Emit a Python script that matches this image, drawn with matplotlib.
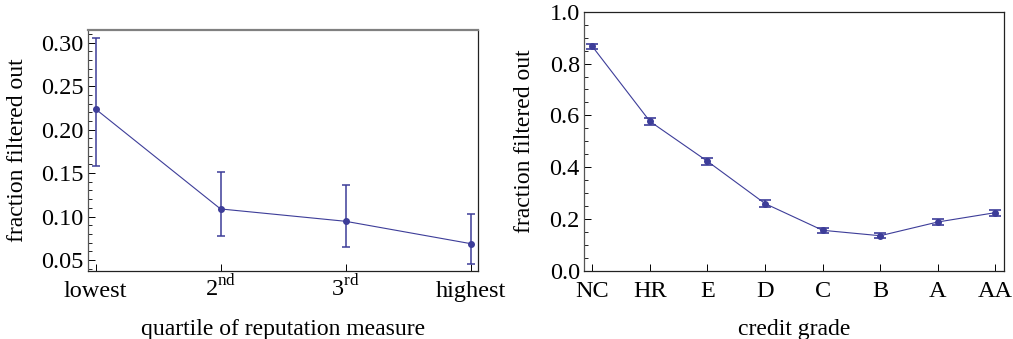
import matplotlib
matplotlib.use("Agg")
import matplotlib.pyplot as plt
import numpy as np
from matplotlib.ticker import MultipleLocator

plt.rcParams['font.family'] = ['Liberation Serif', 'DejaVu Serif']
plt.rcParams['mathtext.fontset'] = 'custom'
plt.rcParams['mathtext.rm'] = 'Liberation Serif'
plt.rcParams['font.size'] = 17.5
plt.rcParams['axes.labelsize'] = 17

# left panel: reputation quartiles
quartiles = ['lowest', '2$^{\\mathrm{nd}}$', '3$^{\\mathrm{rd}}$', 'highest']
rep_frac = [0.2237, 0.1087, 0.0945, 0.0688]
rep_hi = [0.3058, 0.1508, 0.1359, 0.1033]
rep_lo = [0.1585, 0.0772, 0.0650, 0.0454]

# right panel: credit grades
grades = ['NC', 'HR', 'E', 'D', 'C', 'B', 'A', 'AA']
grade_frac = [0.866, 0.577, 0.423, 0.260, 0.157, 0.136, 0.189, 0.225]
grade_err = [0.011, 0.013, 0.013, 0.012, 0.010, 0.009, 0.011, 0.012]

color = '#3d3d99'

fig = plt.figure(figsize=(10.13, 3.39), dpi=100)
ax1 = fig.add_axes([0.0869, 0.2006, 0.385, 0.7109])
ax2 = fig.add_axes([0.5765, 0.2006, 0.4146, 0.7649])

x1 = np.arange(1, len(quartiles) + 1)
y1 = np.array(rep_frac)
yerr1 = [y1 - np.array(rep_lo), np.array(rep_hi) - y1]
ax1.errorbar(x1, y1, yerr=yerr1, color=color, lw=0.8, marker='o', ms=4,
             elinewidth=1.1, capsize=3.2, capthick=1.1)
ax1.set_xlim(0.94, 4.06)
ax1.set_ylim(0.0373, 0.3146)
ax1.set_xticks(x1)
ax1.set_xticklabels(quartiles)
ax1.yaxis.set_major_locator(MultipleLocator(0.05))
ax1.yaxis.set_minor_locator(MultipleLocator(0.01))
ax1.yaxis.set_major_formatter(plt.FormatStrFormatter('%.2f'))
ax1.set_xlabel('quartile of reputation measure')
ax1.set_ylabel('fraction filtered out')
ax1.xaxis.set_label_coords(0.5, -0.2)
ax1.yaxis.set_label_coords(-0.155, 0.5)

x2 = np.arange(1, len(grades) + 1)
ax2.errorbar(x2, grade_frac, yerr=grade_err, color=color, lw=0.8, marker='o', ms=4,
             elinewidth=1.2, capsize=4, capthick=1.2)
ax2.set_xlim(0.855, 8.15)
ax2.set_ylim(0, 1)
ax2.set_xticks(x2)
ax2.set_xticklabels(grades)
ax2.yaxis.set_major_locator(MultipleLocator(0.2))
ax2.yaxis.set_minor_locator(MultipleLocator(0.05))
ax2.yaxis.set_major_formatter(plt.FormatStrFormatter('%.1f'))
ax2.set_xlabel('credit grade')
ax2.set_ylabel('fraction filtered out')
ax2.xaxis.set_label_coords(0.5, -0.185)
ax2.yaxis.set_label_coords(-0.117, 0.5)

for ax in (ax1, ax2):
    ax.tick_params(which='both', direction='in', top=False, right=False)
    ax.tick_params(which='major', length=5, width=0.7)
    ax.tick_params(which='minor', length=3, width=0.6)
    ax.tick_params(axis='y', pad=3)
    ax.tick_params(axis='x', pad=18.5)
    for lab in ax.get_xticklabels():
        lab.set_verticalalignment('baseline')
    ax.xaxis.set_minor_locator(plt.NullLocator())
    for s in ax.spines.values():
        s.set_linewidth(0.9)
        s.set_color('#222222')
    ax.spines['left'].set_color('#555555')

ax1.spines['top'].set_color('#808080')
ax1.spines['top'].set_linewidth(1.6)

fig.savefig('out.png', dpi=100)
